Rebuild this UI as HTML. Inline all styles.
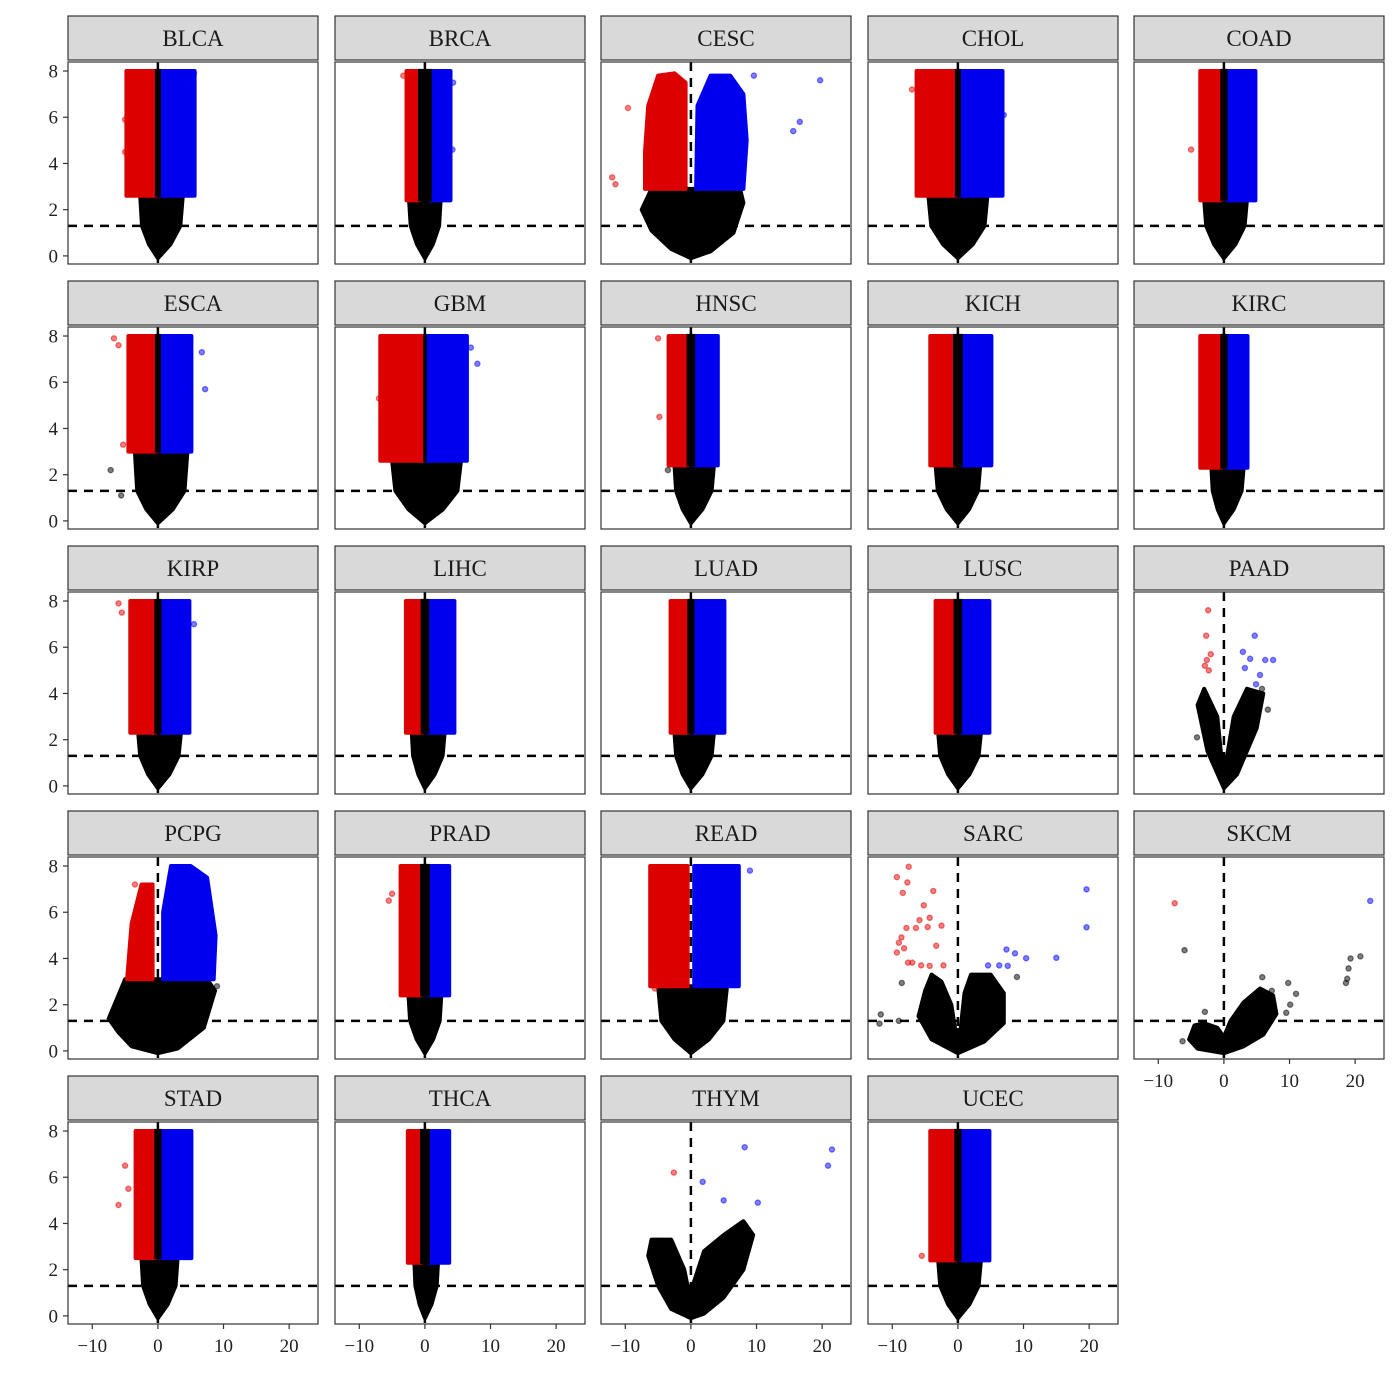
<!DOCTYPE html>
<html><head><meta charset="utf-8"><style>
html,body{margin:0;padding:0;background:#fff;}
svg{display:block;font-family:"Liberation Serif",serif;}
</style></head><body>
<svg id="chart" width="1400" height="1400" viewBox="0 0 1400 1400" xmlns="http://www.w3.org/2000/svg"></svg>
<script>
const panelNames = ["BLCA","BRCA","CESC","CHOL","COAD","ESCA","GBM","HNSC","KICH","KIRC","KIRP","LIHC","LUAD","LUSC","PAAD","PCPG","PRAD","READ","SARC","SKCM","STAD","THCA","THYM","UCEC"];
const blackTop   = [2.6,2.4,2.9,2.6,2.4,3.0,2.6,2.4,2.4,2.3,2.3,2.3,2.3,2.3,null,3.1,2.4,2.8,null,null,2.5,2.3,null,2.4];
const blackLeft  = [-2.7,-2.4,-6,-4.5,-3,-3.5,-5,-2.5,-3.4,-1.9,-3,-2,-2.5,-3,null,-5,-2.5,-5,null,null,-2.5,-1.6,null,-3];
const blackRight = [3.8,2.4,7.5,4.5,3.5,4.5,5.5,3.5,3.4,3,3.5,3,3.5,3.5,null,7.5,2.5,5.5,null,null,3,2,null,3.5];
const redLeft    = [-4.8,-2.8,null,-6.3,-3.6,-4.5,-6.8,-3.4,-4.2,-3.6,-4.2,-2.9,-3.1,-3.4,null,null,-3.7,-6.2,null,null,-3.4,-2.6,null,-4.2];
const blueRight  = [5.6,3.9,null,6.8,4.8,5.1,6.4,4.1,5.1,3.6,4.8,4.5,5.1,4.8,null,null,3.7,7.3,null,null,5.1,3.7,null,4.8];
const centerHalf = [0.3,0.9,0,0.3,0.4,0.3,0.1,0.5,0.6,0.4,0.4,0.5,0.4,0.5,0,0,0.6,0,0,0,0.4,0.6,0,0.4];
const customBlack = {
  CESC: [[0,-0.1],[-3,0.3],[-6,1.1],[-7.5,2],[-6,2.9],[7.5,2.9],[8,2.3],[6.5,1],[3,0.2]],
  PCPG: [[0,-0.1],[-4,0.2],[-6,0.8],[-7.5,1.4],[-5,3.1],[7.5,3.1],[8.7,2.6],[7,1],[3,0.1]],
  PAAD: [[0,-0.1],[-2.5,1.5],[-4,3.5],[-3,4.2],[-1,3],[-0.3,1.0],[0.3,1.0],[1.5,3],[3.5,4.2],[6,4],[5,2.5],[2,0.5]],
  SARC: [[0,-0.1],[-4,0.5],[-6,1.5],[-5,2.6],[-4,3.3],[-2.5,3.0],[-1,2],[-0.4,0.9],[0.4,0.9],[1,2.5],[2,3.3],[5,3.3],[7,2.5],[7,1.2],[4,0.4]],
  SKCM: [[0,-0.1],[-4,0.1],[-5.3,0.5],[-4.5,1.1],[-3,1.2],[-1,1.0],[0,0.6],[1,1.3],[3,2.1],[5.5,2.7],[7.5,2.4],[8,1.6],[6,0.7],[3,0.2]],
  THYM: [[0,-0.1],[-3,0.3],[-5,1.3],[-6.5,2.6],[-6,3.3],[-3,3.3],[-1,2],[-0.3,1.0],[0.5,1.5],[2,2.8],[5,3.5],[8,4.1],[9.5,3.5],[8,2],[5,0.8],[2,0.1]]
};
const customRed = {
  CESC: [[-7,2.9],[-0.8,2.9],[-0.8,7.5],[-2.5,7.9],[-5,7.8],[-6.5,6.5],[-7,4.5]],
  PCPG: [[-4.7,3.1],[-0.8,3.1],[-0.8,7.2],[-2.5,7.2],[-4,5.5]]
};
const customBlue = {
  CESC: [[0.8,2.9],[8,2.9],[8.5,5],[8,7],[6,7.8],[3,7.8],[1,6.5]],
  PCPG: [[0.8,3.1],[8.5,3.1],[8.8,5],[7.5,7.5],[5,8],[2,8],[0.8,6]]
};
const outlierPoints = [
  ["BLCA",5.5,7.9,"b"],["BLCA",5.0,7.4,"b"],["BLCA",-5,5.9,"r"],["BLCA",-5,4.5,"r"],
  ["BRCA",-3.3,7.8,"r"],["BRCA",4.3,7.5,"b"],["BRCA",4.2,4.6,"b"],
  ["CESC",19.7,7.6,"b"],["CESC",16.6,5.8,"b"],["CESC",15.6,5.4,"b"],["CESC",9.6,7.8,"b"],
  ["CESC",-9.6,6.4,"r"],["CESC",-12,3.4,"r"],["CESC",-11.5,3.1,"r"],
  ["CHOL",7,6.1,"b"],["CHOL",-7,7.2,"r"],
  ["COAD",-5,4.6,"r"],
  ["ESCA",-6.7,7.9,"r"],["ESCA",-6,7.6,"r"],["ESCA",-5.3,3.3,"r"],["ESCA",6.7,7.3,"b"],["ESCA",7.2,5.7,"b"],
  ["ESCA",-7.2,2.2,"k"],["ESCA",-5.6,1.1,"k"],
  ["GBM",7,7.5,"b"],["GBM",8,6.8,"b"],["GBM",-7,5.3,"r"],
  ["HNSC",-5,7.9,"r"],["HNSC",-4.8,4.5,"r"],["HNSC",-3.5,2.2,"k"],
  ["KIRP",-6,7.9,"r"],["KIRP",-5.5,7.5,"r"],["KIRP",5.5,7,"b"],
  ["PAAD",-2.4,7.6,"r"],["PAAD",-2.7,6.5,"r"],["PAAD",-2.6,5.45,"r"],["PAAD",-2.9,5.2,"r"],["PAAD",-2.3,5.0,"r"],["PAAD",-2,5.7,"r"],
  ["PAAD",4.7,6.5,"b"],["PAAD",2.9,5.8,"b"],["PAAD",4,5.5,"b"],["PAAD",6.3,5.45,"b"],["PAAD",7.5,5.45,"b"],["PAAD",3.2,5.1,"b"],["PAAD",5.5,4.8,"b"],["PAAD",4.9,4.4,"b"],
  ["PAAD",-4.1,2.1,"k"],["PAAD",6.7,3.3,"k"],["PAAD",5.8,4.2,"k"],
  ["PCPG",-3.5,7.2,"r"],["PCPG",9,2.8,"k"],["PCPG",-7,1.5,"k"],
  ["PRAD",-5,6.8,"r"],["PRAD",-5.5,6.5,"r"],
  ["READ",9,7.8,"b"],["READ",-5.5,2.7,"r"],
  ["SARC",-7.5,7.97,"r"],["SARC",-9.3,7.52,"r"],["SARC",-7.7,7.29,"r"],["SARC",-8.4,6.84,"r"],["SARC",-3.75,6.92,"r"],["SARC",-5.2,6.3,"r"],
  ["SARC",-4.3,5.76,"r"],["SARC",-5.85,5.66,"r"],["SARC",-7.85,5.32,"r"],["SARC",-6.4,5.32,"r"],["SARC",-4.6,5.36,"r"],["SARC",-2.5,5.42,"r"],
  ["SARC",-8.6,4.91,"r"],["SARC",-9.0,4.68,"r"],["SARC",-8.2,4.44,"r"],["SARC",-9.3,4.26,"r"],["SARC",-3.3,4.55,"r"],["SARC",-7.6,3.82,"r"],
  ["SARC",-6.95,3.82,"r"],["SARC",-5.6,3.7,"r"],["SARC",-4.3,3.68,"r"],["SARC",-2.2,3.7,"r"],
  ["SARC",19.6,6.99,"b"],["SARC",19.6,5.35,"b"],["SARC",15.0,4.03,"b"],["SARC",10.4,4.01,"b"],["SARC",8.7,4.22,"b"],["SARC",7.4,4.39,"b"],
  ["SARC",4.6,3.7,"b"],["SARC",6.3,3.7,"b"],["SARC",7.6,3.68,"b"],
  ["SARC",-11.75,1.58,"k"],["SARC",-11.95,1.18,"k"],["SARC",-9.0,1.3,"k"],["SARC",-8.55,2.94,"k"],["SARC",9.0,3.2,"k"],
  ["SKCM",-7.5,6.39,"r"],["SKCM",22.3,6.49,"b"],
  ["SKCM",-6.0,4.36,"k"],["SKCM",20.8,4.09,"k"],["SKCM",19.3,4.0,"k"],["SKCM",19.0,3.57,"k"],["SKCM",18.8,3.12,"k"],["SKCM",18.6,2.94,"k"],
  ["SKCM",5.85,3.19,"k"],["SKCM",9.8,2.94,"k"],["SKCM",11.0,2.47,"k"],["SKCM",10.1,2.0,"k"],["SKCM",9.5,1.65,"k"],["SKCM",-2.9,1.69,"k"],
  ["SKCM",-6.3,0.42,"k"],["SKCM",7.3,2.6,"k"],
  ["STAD",-5,6.5,"r"],["STAD",-6,4.8,"r"],["STAD",-4.5,5.5,"r"],
  ["THYM",-2.6,6.2,"r"],["THYM",1.8,5.8,"b"],["THYM",5,5.0,"b"],["THYM",8.2,7.3,"b"],["THYM",10.2,4.9,"b"],["THYM",21.5,7.2,"b"],["THYM",20.9,6.5,"b"],
  ["UCEC",-5.5,2.6,"r"]
];
const xTicks = [-10,0,10,20];
const xTickLabels = ["\u221210","0","10","20"];
const yTicks = [0,2,4,6,8];
const yTickLabels = ["0","2","4","6","8"];
const pThreshold = 1.3;

const NS = "http://www.w3.org/2000/svg";
const svg = document.getElementById("chart");
const colLeft = [68,335,601,868,1134];
const rowTop = [62,327,592,857,1122];
const PW = 250, PH = 202;
const xMin = -13.7, xMax = 24.4, yMin = -0.35, yMax = 8.39;
const colors = {r:"#dd0000", b:"#0000ee", k:"#000000"};
const ocolors = {r:"rgba(230,0,0,0.5)", b:"rgba(0,0,255,0.5)", k:"rgba(0,0,0,0.5)"};
function mk(tag, attrs, parent){ const e=document.createElementNS(NS,tag); for(const k in attrs) e.setAttribute(k,attrs[k]); (parent||svg).appendChild(e); return e; }
function xs(c,x){ return colLeft[c] + (x-xMin)/(xMax-xMin)*PW; }
function ys(r,y){ return rowTop[r] + (yMax-y)/(yMax-yMin)*PH; }
function pts(c,r,arr){ return arr.map(p=>xs(c,p[0]).toFixed(1)+","+ys(r,p[1]).toFixed(1)).join(" "); }

panelNames.forEach((name,i)=>{
  const c=i%5, r=Math.floor(i/5);
  const L=colLeft[c], T=rowTop[r];
  const g=mk("g",{});
  
  
  const clipId="clip"+i;
  const cp=mk("clipPath",{id:clipId},g); mk("rect",{x:L,y:T,width:PW,height:PH},cp);
  const strip=mk("rect",{x:L,y:T-46,width:PW,height:44,fill:"#d9d9d9",stroke:"#333","stroke-width":1.2},g);
  
  
  const st=mk("text",{x:L+PW/2,y:T-16,"text-anchor":"middle","font-size":23,fill:"#1a1a1a"},g);
  st.textContent=name;
  
  
  const inner=mk("g",{"clip-path":"url(#"+clipId+")"},g);
  const hl=mk("line",{x1:L,x2:L+PW,y1:ys(r,pThreshold),y2:ys(r,pThreshold),stroke:"#000","stroke-width":2.5,"stroke-dasharray":"9,7"},inner);
  
  
  const vl=mk("line",{x1:xs(c,0),x2:xs(c,0),y1:T,y2:T+PH,stroke:"#000","stroke-width":2.5,"stroke-dasharray":"9,7"},inner);
  
  
  let bpoly;
  if(customBlack[name]) bpoly=customBlack[name];
  else { const h=blackTop[i], bl=blackLeft[i], br=blackRight[i];
    bpoly=[[0,-0.1],[bl*0.5,0.5],[bl*0.9,1.3],[bl,h],[br,h],[br*0.9,1.3],[br*0.5,0.5]]; }
  const bp=mk("polygon",{points:pts(c,r,bpoly),fill:"#000",stroke:"#000","stroke-width":4,"stroke-linejoin":"round"},inner);
  
  
  let rp=null, up=null;
  if(customRed[name]){ rp=customRed[name]; up=customBlue[name]; }
  else if(redLeft[i]!==null){ const h=blackTop[i], gap=centerHalf[i]>0?centerHalf[i]:0.5;
    rp=[[redLeft[i],h],[-gap,h],[-gap,8.0],[redLeft[i],8.0]];
    up=[[gap,h],[blueRight[i],h],[blueRight[i],8.0],[gap,8.0]]; }
  if(rp){
    const a=mk("polygon",{points:pts(c,r,rp),fill:colors.r,stroke:colors.r,"stroke-width":4,"stroke-linejoin":"round"},inner);
    
    
    const b=mk("polygon",{points:pts(c,r,up),fill:colors.b,stroke:colors.b,"stroke-width":4,"stroke-linejoin":"round"},inner);
    
    
  }
  if(centerHalf[i]>0 && blackTop[i]!==null){
    const ch=centerHalf[i];
    const cs=mk("polygon",{points:pts(c,r,[[-ch,blackTop[i]],[ch,blackTop[i]],[ch,8.05],[-ch,8.05]]),fill:"#000",stroke:"#000","stroke-width":2},inner);
    
    
  }
  outlierPoints.filter(p=>p[0]===name).forEach(p=>{
    const o=mk("circle",{cx:xs(c,p[1]),cy:ys(r,p[2]),r:2.6,fill:ocolors[p[3]],stroke:ocolors[p[3]],"stroke-width":1.3},inner);
    
    
  });
  const fr=mk("rect",{x:L,y:T,width:PW,height:PH,fill:"none",stroke:"#333","stroke-width":1.2},g);
  
  
  if(c===0){
    yTicks.forEach((v,k)=>{
      mk("line",{x1:L-5,x2:L,y1:ys(r,v),y2:ys(r,v),stroke:"#333","stroke-width":1.2},g);
      const t=mk("text",{x:L-10,y:ys(r,v)+6.5,"text-anchor":"end","font-size":19,fill:"#222"},g);
      t.textContent=yTickLabels[k];
      
      
    });
  }
  const isBottom = (r===4) || (r===3 && c===4);
  if(isBottom){
    xTicks.forEach((v,k)=>{
      mk("line",{x1:xs(c,v),x2:xs(c,v),y1:T+PH,y2:T+PH+5,stroke:"#333","stroke-width":1.2},g);
      const t=mk("text",{x:xs(c,v),y:T+PH+28,"text-anchor":"middle","font-size":19,fill:"#222"},g);
      t.textContent=xTickLabels[k];
      
      
    });
  }
});
</script>
</body></html>
